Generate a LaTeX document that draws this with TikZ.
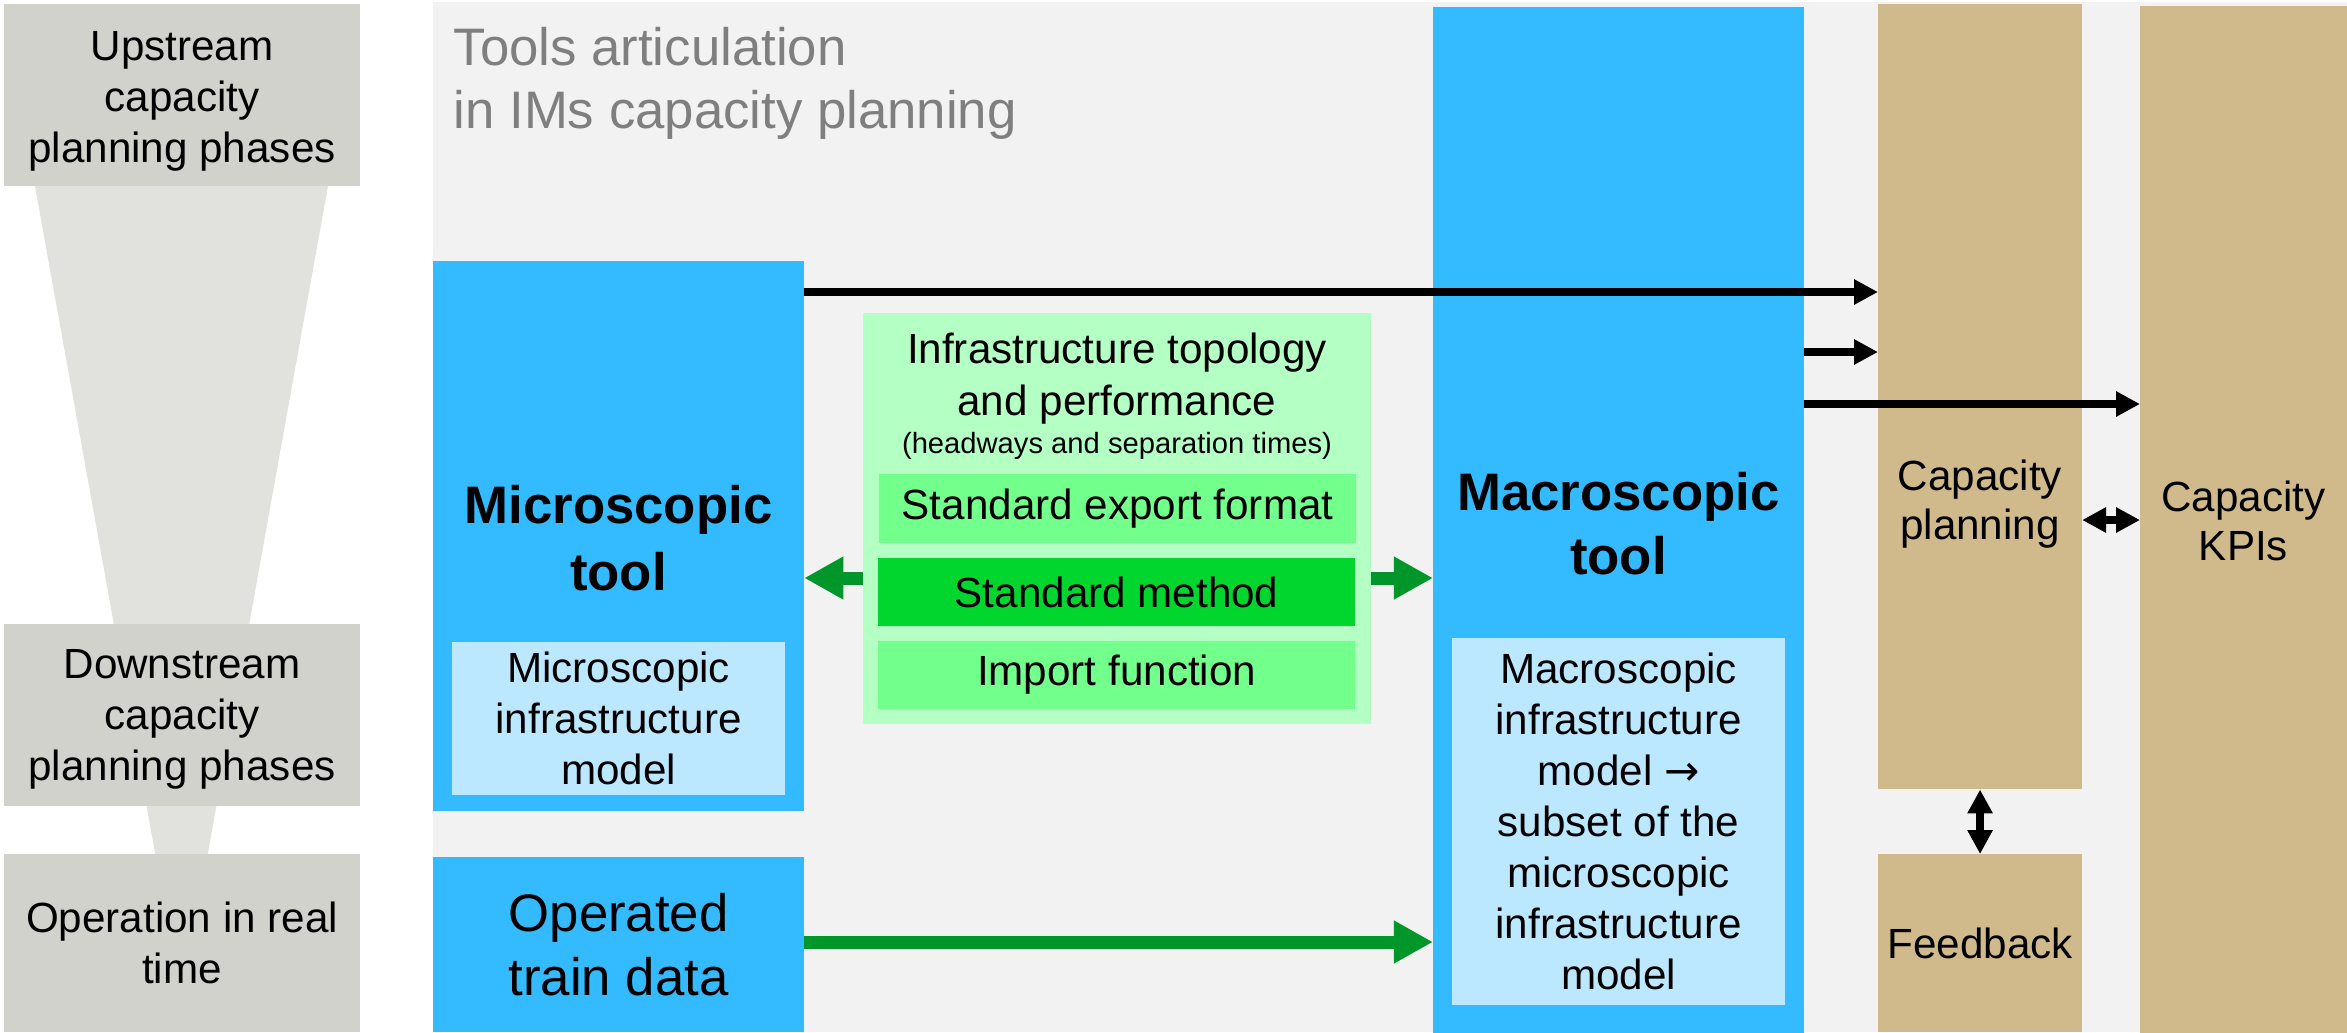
\documentclass[tikz,border=0pt]{standalone}
\usepackage{fontspec}
\setmainfont{Liberation Sans}
\newfontfamily\arrowfont{DejaVu Sans}
\usetikzlibrary{arrows.meta}

\definecolor{panelgrey}{HTML}{F2F2F2}
\definecolor{phasegrey}{HTML}{D1D2CB}
\definecolor{funnelgrey}{HTML}{E1E2DD}
\definecolor{toolblue}{HTML}{33BAFF}
\definecolor{modelblue}{HTML}{BBE8FF}
\definecolor{palegreen}{HTML}{B4FFC4}
\definecolor{midgreen}{HTML}{72FF8C}
\definecolor{brightgreen}{HTML}{00D62E}
\definecolor{arrowgreen}{HTML}{00962A}
\definecolor{kpitan}{HTML}{D0BA8C}
\definecolor{titlegrey}{HTML}{7F7F7F}

\begin{document}
\begin{tikzpicture}[x=0.01cm,y=-0.01cm,
    box/.style={anchor=north west,inner sep=0pt,outer sep=0pt,align=center,
      font=\fontsize{12}{14.5}\selectfont},
    lbl/.style={inner sep=0pt,align=center},
    blk/.style={draw=black,line width=2.4pt,-{Triangle[length=6.8pt,width=6.8pt]}},
    blkboth/.style={draw=black,line width=2.4pt,
      {Triangle[length=6.8pt,width=6.8pt]}-{Triangle[length=6.8pt,width=6.8pt]}},
    grn/.style={draw=arrowgreen,line width=3.7pt,-{Triangle[length=11.1pt,width=11.4pt]}}]
      \useasboundingbox (0,0) rectangle (2347,1032);
      \fill[white] (0,0) rectangle (2347,1032);
      \fill[panelgrey] (433,2) rectangle (2347,1032);
      \fill[funnelgrey] (35,186) -- (328,186) -- (181.5,1000) -- cycle;

      \coordinate (r_1) at (0,292);
      \coordinate (r_2) at (0,352);
      \coordinate (r_3) at (0,404);
      \coordinate (r_4) at (0,520);
      \coordinate (r_5) at (0,578);
      \coordinate (r_6) at (0,942);

      \begin{scope}[every node/.style={box,fill=phasegrey,minimum width=3.56cm}]
        \node[minimum height=1.82cm] (ph_up) at (4,4) {};
        \node[minimum height=1.82cm] (ph_down) at (4,624) {};
        \node[minimum height=1.78cm] (ph_op) at (4,854) {Operation in real\\time};
      \end{scope}
      \begin{scope}[every node/.style={box,fill=toolblue,minimum width=3.71cm}]
        \node[minimum height=5.50cm] (t_micro) at (433,261) {};
        \node[minimum height=10.25cm] (t_macro) at (1433,7) {};
        \node[minimum height=1.75cm,font=\fontsize{15}{18.2}\selectfont] (op_data) at (433,857) {Operated\\train data};
      \end{scope}
      \begin{scope}[every node/.style={box,fill=modelblue,minimum width=3.33cm}]
        \node[minimum height=1.53cm] (m_micro) at (452,642) {Microscopic\\infrastructure\\model};
        \node[minimum height=3.67cm] (m_macro) at (1452,638) {Macroscopic\\infrastructure\\model {\arrowfont →}\\subset of the\\microscopic\\infrastructure\\model};
      \end{scope}
      \node[box,fill=palegreen,minimum width=5.08cm,minimum height=4.11cm] (s_infra) at (863,313) {};
      \begin{scope}[every node/.style={box,minimum width=4.77cm}]
        \node[fill=midgreen,minimum height=0.69cm] (s_export) at (879,474) {Standard export format};
        \node[fill=brightgreen,minimum height=0.68cm] (s_method) at (878,558) {Standard method};
        \node[fill=midgreen,minimum height=0.68cm] (s_import) at (878,641) {Import function};
      \end{scope}
      \begin{scope}[every node/.style={box,fill=kpitan}]
        \node[minimum width=2.04cm,minimum height=7.85cm] (c_plan) at (1878,4) {};
        \node[minimum width=2.04cm,minimum height=1.78cm] (c_feed) at (1878,854) {Feedback};
        \node[minimum width=2.07cm,minimum height=10.26cm] (c_kpi) at (2140,6) {};
      \end{scope}

      \begin{scope}[every node/.style={lbl,anchor=north,font=\fontsize{12}{14.5}\selectfont}]
        \node (l_up) at (182,31) {Upstream\\capacity\\planning phases};
        \node (l_down) at (182,649) {Downstream\\capacity\\planning phases};
      \end{scope}
      \node[lbl,anchor=north west,align=left,text=titlegrey,font=\fontsize{15}{17.9}\selectfont] (l_title) at (453,27) {Tools articulation\\in IMs capacity planning};
      \begin{scope}[every node/.style={lbl,anchor=north,font=\fontsize{15}{18.8}\selectfont\bfseries}]
        \node (l_micro) at (618.5,485) {Microscopic\\tool};
        \node[font=\fontsize{15}{18}\selectfont\bfseries] (l_macro) at (1618.5,472) {Macroscopic\\tool};
      \end{scope}
      \node[lbl,anchor=north,font=\fontsize{12}{14.8}\selectfont] (l_infra) at (1117,332) {Infrastructure topology\\and performance};
      \node[lbl,anchor=base,font=\fontsize{8.3}{10}\selectfont] (l_times) at (1117,453) {(headways and separation times)};
      \begin{scope}[every node/.style={lbl,anchor=north,font=\fontsize{12}{14}\selectfont}]
        \node (l_plan) at (1980,459) {Capacity\\planning};
        \node (l_kpi) at (2243.5,480) {Capacity\\KPIs};
      \end{scope}

      \path (t_micro.east |- r_1) edge[blk] (c_plan.west |- r_1);
      \path (t_macro.east |- r_2) edge[blk] (c_plan.west |- r_2);
      \path (t_macro.east |- r_3) edge[blk] (c_kpi.west |- r_3);
      \path (c_plan.east |- r_4) edge[blkboth] (c_kpi.west |- r_4);
      \path (c_plan.south) edge[blkboth] (c_feed.north);

      \path (s_infra.west |- r_5) edge[grn] (t_micro.east |- r_5);
      \path (s_infra.east |- r_5) edge[grn] (t_macro.west |- r_5);
      \path (op_data.east |- r_6) edge[grn] (t_macro.west |- r_6);
    \end{tikzpicture}
\end{document}
